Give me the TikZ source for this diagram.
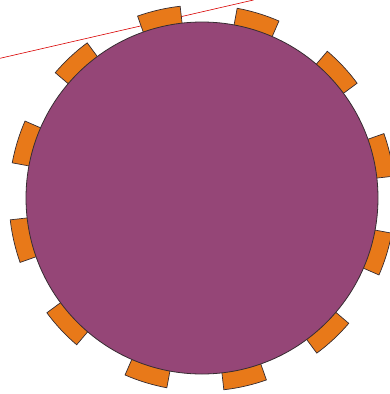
\documentclass[tikz,border=0pt]{standalone}
\usetikzlibrary{calc}
\definecolor{plum}{RGB}{149,70,119}
\definecolor{tab}{RGB}{232,121,25}
\definecolor{edge}{RGB}{55,45,50}
\tikzset{
  tabseg/.style={fill=tab, draw=edge, line width=0.7pt, line join=miter},
  disc/.style={fill=plum, draw=edge, line width=0.8pt},
  redline/.style={draw=red!85!black, line width=0.6pt}
}
\begin{document}
\begin{tikzpicture}[x=1pt,y=-1pt]
\useasboundingbox (0,0) rectangle (389,394);
\coordinate (A) at (0,58.3);
\coordinate (B) at (253.5,0);
\draw[redline] (A) -- (B);
\coordinate (C) at (202,198);
\foreach \k in {0,...,11}{
  \pgfmathsetmacro{\a}{13+30*\k}
  \pgfmathsetmacro{\s}{\a-6.5}
  \pgfmathsetmacro{\e}{\a+6.5}
  \path[tabseg] ($(C)+(\s:165pt)$) -- ($(C)+(\s:193pt)$)
     arc[start angle=\s, end angle=\e, radius=193pt]
     -- ($(C)+(\e:165pt)$) -- cycle;
}
\node[disc, circle, minimum size=352pt, inner sep=0pt] (D) at (C) {};
\end{tikzpicture}
\end{document}
